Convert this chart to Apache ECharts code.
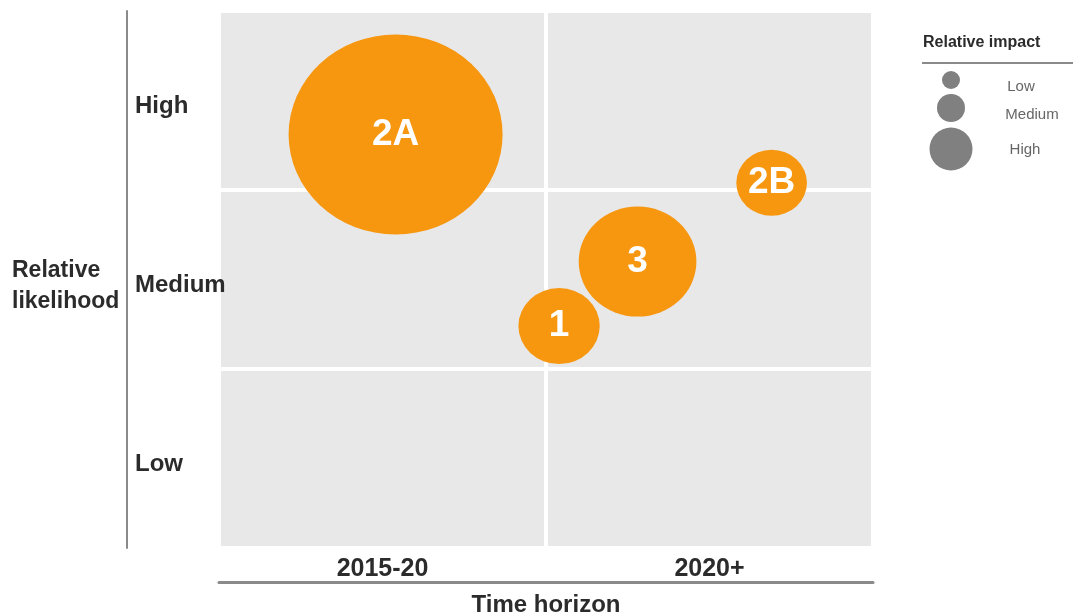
<!DOCTYPE html>
<html>
<head>
<meta charset="utf-8">
<script src="https://cdn.jsdelivr.net/npm/echarts@6/dist/echarts.min.js"></script>
<style>
html,body{margin:0;padding:0;background:#fff;}
#chart{width:1073px;height:614px;}
</style>
</head>
<body>
<div id="chart"></div>
<script>
// Data
const timeCategories = ['2015-20', '2020+'];
const likelihoodCategories = ['Low', 'Medium', 'High'];
const riskNames = ['2A', '2B', '3', '1'];
const riskTime = [0.54, 1.69, 1.28, 1.04];        // position on time axis (0..2)
const riskLikelihood = [2.31, 2.04, 1.60, 1.24];  // position on likelihood axis (0..3)
const riskImpact = [20.0, 6.6, 11.0, 7.6];        // relative impact (bubble size)
const legendLevels = ['Low', 'Medium', 'High'];

const ORANGE = '#F7960F';
const FONT = 'Liberation Sans, Arial, sans-serif';

const seriesData = riskNames.map((n, i) => ({
  name: n,
  value: [riskTime[i], riskLikelihood[i], riskImpact[i]]
}));

const chart = echarts.init(document.getElementById('chart'));
chart.setOption({
  animation: false,
  textStyle: { fontFamily: FONT },
  grid: {
    left: 219, right: 200, top: 11, bottom: 66,
    outerBoundsMode: 'none', containLabel: false,
    show: true, backgroundColor: '#e8e8e8', borderWidth: 0
  },
  xAxis: [
    {
      type: 'value', min: 0, max: 2, interval: 1,
      axisLine: { show: false }, axisTick: { show: false }, axisLabel: { show: false },
      splitLine: { show: true, lineStyle: { color: '#ffffff', width: 4 } }
    },
    {
      type: 'category', data: timeCategories, position: 'bottom', offset: 34,
      axisLine: { show: true, lineStyle: { color: '#8a8a8a', width: 3 } },
      axisTick: { show: false },
      axisLabel: { inside: true, margin: 0, fontSize: 25, fontWeight: 'bold', color: '#2b2b2b', fontFamily: FONT },
      splitLine: { show: false },
      name: 'Time horizon', nameLocation: 'middle', nameGap: 11,
      nameTextStyle: { fontSize: 24, fontWeight: 'bold', color: '#2b2b2b', fontFamily: FONT }
    }
  ],
  yAxis: [
    {
      type: 'value', min: 0, max: 3, interval: 1,
      axisLine: { show: false }, axisTick: { show: false }, axisLabel: { show: false },
      splitLine: { show: true, lineStyle: { color: '#ffffff', width: 4 } }
    },
    {
      type: 'category', data: likelihoodCategories, position: 'left', offset: 92,
      axisLine: { show: true, lineStyle: { color: '#8a8a8a', width: 2 } },
      axisTick: { show: false },
      axisLabel: {
        inside: true, margin: 8, fontSize: 24, fontWeight: 'bold', color: '#2b2b2b', fontFamily: FONT,
        formatter: v => '{t|' + v + '}',
        rich: { t: { fontSize: 24, fontWeight: 'bold', color: '#2b2b2b', fontFamily: FONT, padding: [12, 0, 0, 0] } }
      },
      splitLine: { show: false }
    }
  ],
  series: [{
    type: 'scatter',
    xAxisIndex: 0, yAxisIndex: 0,
    data: seriesData,
    symbolSize: v => [v[2] * 10 * 1.07, v[2] * 10],
    itemStyle: { color: ORANGE, opacity: 1 },
    label: {
      show: true, position: 'inside', formatter: p => p.name,
      color: '#ffffff', fontSize: 37, fontWeight: 'bold', fontFamily: FONT
    }
  }],
  graphic: [
    { type: 'text', left: 12, top: 255, style: { text: 'Relative\nlikelihood', font: 'bold 23px ' + FONT, fill: '#2b2b2b', lineHeight: 31 } },
    { type: 'text', left: 923, top: 35, style: { text: 'Relative impact', font: 'bold 16px ' + FONT, fill: '#2b2b2b' } },
    { type: 'line', shape: { x1: 922, y1: 63, x2: 1073, y2: 63 }, style: { stroke: '#8a8a8a', lineWidth: 2 } },
    { type: 'circle', shape: { cx: 951, cy: 80, r: 9 }, style: { fill: '#808080' } },
    { type: 'circle', shape: { cx: 951, cy: 108, r: 14 }, style: { fill: '#808080' } },
    { type: 'circle', shape: { cx: 951, cy: 149, r: 21.5 }, style: { fill: '#808080' } },
    { type: 'text', x: 1021, y: 87, style: { text: legendLevels[0], font: '15px ' + FONT, fill: '#666', align: 'center', verticalAlign: 'middle' } },
    { type: 'text', x: 1032, y: 115, style: { text: legendLevels[1], font: '15px ' + FONT, fill: '#666', align: 'center', verticalAlign: 'middle' } },
    { type: 'text', x: 1025, y: 150, style: { text: legendLevels[2], font: '15px ' + FONT, fill: '#666', align: 'center', verticalAlign: 'middle' } }
  ]
});
</script>
</body>
</html>
